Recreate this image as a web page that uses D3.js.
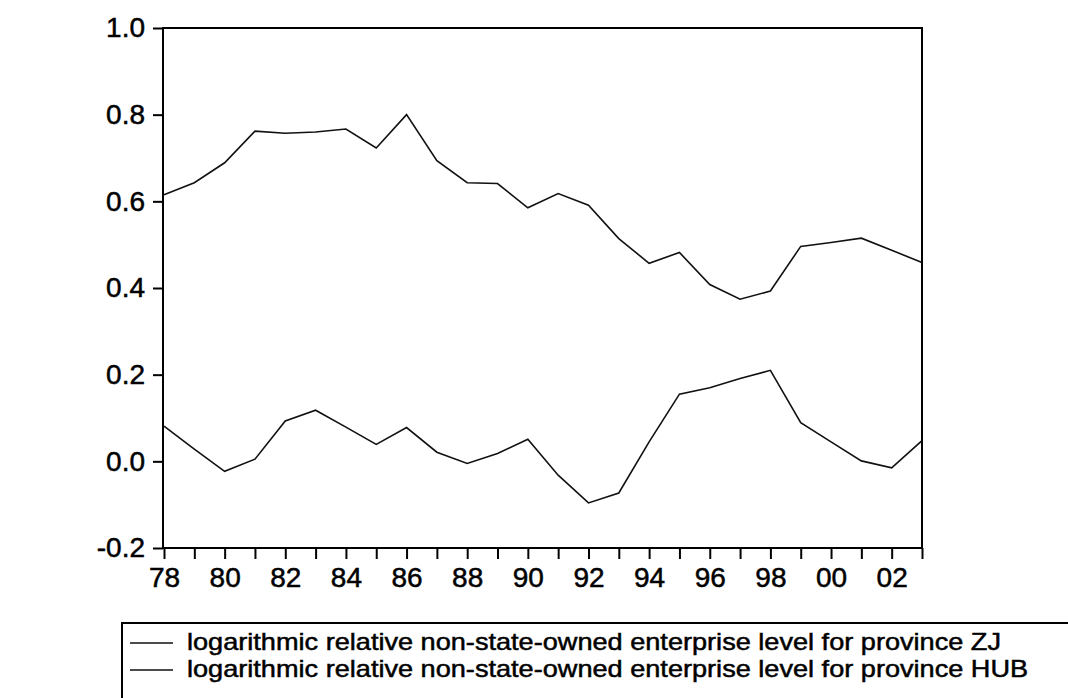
<!DOCTYPE html>
<html>
<head>
<meta charset="utf-8">
<script src="https://cdn.jsdelivr.net/npm/d3@7"></script>
<style>
  body { margin: 0; background: #fff; }
  svg { display: block; font-family: "Liberation Sans", Arial, sans-serif; }
  .axis path, .axis line { stroke: #000; stroke-width: 2px; }
  .axis text { font-size: 28px; fill: #000; stroke: #000; stroke-width: 0.5px; }
  .legend text { font-size: 24px; fill: #000; stroke: #000; stroke-width: 0.5px; }
</style>
</head>
<body>
<svg width="1068" height="698"></svg>
<script>
// years on the x axis, 1978 .. 2003
const years = d3.range(1978, 2004);
const yTicks = [-0.2, 0.0, 0.2, 0.4, 0.6, 0.8, 1.0];

// logarithmic relative non-state-owned enterprise level
const zj = [0.615, 0.643, 0.689, 0.762, 0.757, 0.760, 0.767, 0.723, 0.800, 0.694,
            0.643, 0.641, 0.585, 0.618, 0.591, 0.514, 0.457, 0.482, 0.408, 0.374,
            0.393, 0.496, 0.505, 0.515, 0.487, 0.459];
const hub = [0.081, 0.028, -0.023, 0.005, 0.093, 0.118, 0.079, 0.039, 0.078, 0.021,
             -0.005, 0.018, 0.051, -0.032, -0.096, -0.073, 0.045, 0.155, 0.170, 0.191,
             0.210, 0.089, 0.045, 0.001, -0.015, 0.048];
const seriesNames = [
  'logarithmic relative non-state-owned enterprise level for province ZJ',
  'logarithmic relative non-state-owned enterprise level for province HUB'
];

const svg = d3.select('svg');
const plot = { left: 163, right: 922, top: 28, bottom: 548 };

// scales
const x = d3.scaleLinear().domain([1978, 2003]).range([plot.left + 1, plot.right]);
const y = d3.scaleLinear().domain([-0.2, 1.0]).range([plot.bottom, plot.top]);

// frame
svg.append('rect')
  .attr('x', plot.left).attr('y', plot.top)
  .attr('width', plot.right - plot.left).attr('height', plot.bottom - plot.top)
  .attr('fill', 'none').attr('stroke', '#000').attr('stroke-width', 2);

// y axis (plain hyphen for the minus sign, like the original)
const yAxis = svg.append('g')
  .attr('class', 'axis')
  .attr('transform', `translate(${plot.left}, 0)`)
  .call(d3.axisLeft(y).tickValues(yTicks).tickFormat(d => d.toFixed(1))
    .tickSize(10).tickSizeOuter(0).tickPadding(8));
yAxis.select('.domain').remove();

// x axis, a tick every year, a label every other year
const xAxis = svg.append('g')
  .attr('class', 'axis')
  .attr('transform', `translate(0, ${plot.bottom})`)
  .call(d3.axisBottom(x).tickValues(years)
    .tickFormat(d => d % 2 === 0 ? String(d).slice(2) : '')
    .tickSize(11).tickSizeOuter(0).tickPadding(8));
xAxis.select('.domain').remove();

// lines
const line = d3.line()
  .x((d, i) => x(years[i]))
  .y(d => y(d));

[zj, hub].forEach(s => {
  svg.append('path')
    .datum(s)
    .attr('d', line)
    .attr('fill', 'none')
    .attr('stroke', '#111')
    .attr('stroke-width', 1.6);
});

// legend, the box runs off the bottom and right of the picture
const legend = svg.append('g').attr('class', 'legend');
legend.append('rect')
  .attr('x', 122).attr('y', 623)
  .attr('width', 1000).attr('height', 90)
  .attr('fill', 'none').attr('stroke', '#000').attr('stroke-width', 2);

seriesNames.forEach((name, i) => {
  const ly = 643 + i * 27;
  legend.append('line')
    .attr('x1', 130).attr('x2', 173)
    .attr('y1', ly).attr('y2', ly)
    .attr('stroke', '#111').attr('stroke-width', 1.6);
  const t = legend.append('text')
    .attr('x', 187).attr('y', ly + 7)
    .text(name);
  // the scanned original is a little wider than the font
  const w = t.node().getComputedTextLength();
  t.attr('textLength', w * 1.13).attr('lengthAdjust', 'spacingAndGlyphs');
});
</script>
</body>
</html>
